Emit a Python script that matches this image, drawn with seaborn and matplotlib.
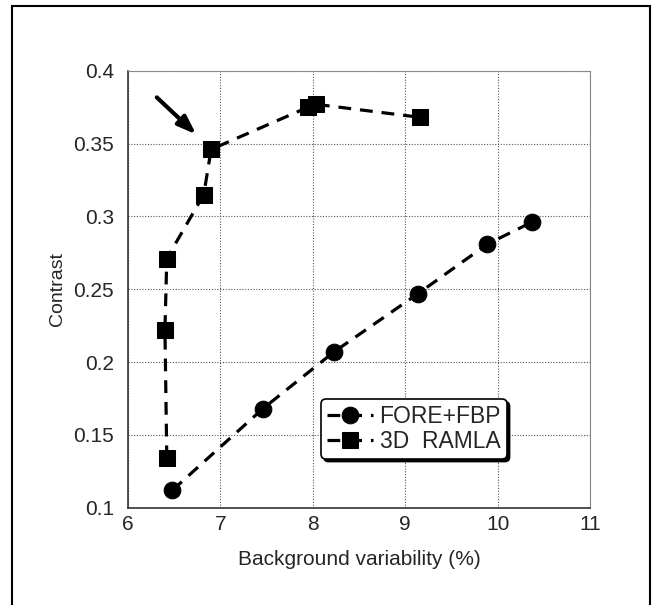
import pandas as pd
import matplotlib
matplotlib.use("Agg")
import matplotlib.pyplot as plt
from matplotlib.patches import Rectangle
import seaborn as sns

# Data
fbp_x = [6.48, 7.46, 8.23, 9.14, 9.89, 10.37]
fbp_y = [0.112, 0.168, 0.207, 0.247, 0.281, 0.296]
ramla_x = [6.42, 6.40, 6.42, 6.82, 6.90, 7.95, 8.03, 9.16]
ramla_y = [0.134, 0.222, 0.271, 0.315, 0.346, 0.375, 0.377, 0.368]
methods = ["FORE+FBP", "3D  RAMLA"]
x_ticks = [6, 7, 8, 9, 10, 11]
y_ticks = [0.1, 0.15, 0.2, 0.25, 0.3, 0.35, 0.4]
y_ticklabels = ["0.1", "0.15", "0.2", "0.25", "0.3", "0.35", "0.4"]

df = pd.concat([
	pd.DataFrame({"x": fbp_x, "y": fbp_y, "method": methods[0]}),
	pd.DataFrame({"x": ramla_x, "y": ramla_y, "method": methods[1]}),
], ignore_index=True)

sns.set_style("white")
plt.rcParams["font.family"] = ["Liberation Sans", "DejaVu Sans"]

fig = plt.figure(figsize=(6.53, 6.05), dpi=100)
ax = fig.add_axes([0.196, 0.1608, 0.7075, 0.7223])

sns.lineplot(data=df, x="x", y="y", hue="method", style="method",
	hue_order=methods, style_order=methods,
	palette=["black", "black"],
	markers={methods[0]: "o", methods[1]: "s"},
	dashes={methods[0]: (4, 2.8), methods[1]: (4, 2.8)},
	sort=False, estimator=None, lw=2.3, markersize=12,
	markeredgecolor="black", ax=ax)

ax.set_xlim(6, 11)
ax.set_ylim(0.1, 0.4)
ax.set_xticks(x_ticks)
ax.set_yticks(y_ticks)
ax.set_yticklabels(y_ticklabels)
ax.tick_params(labelsize=15, length=0)
ax.tick_params(axis="y", pad=10)
ax.tick_params(axis="x", pad=5)
ax.grid(True, linestyle=(0, (1, 1.5)), color="#555555", lw=0.8)
for side in ["left", "bottom"]:
	ax.spines[side].set_color("#333333")
	ax.spines[side].set_linewidth(1.2)
for side in ["top", "right"]:
	ax.spines[side].set_color("#888888")
	ax.spines[side].set_linewidth(0.8)
ax.set_xlabel("Background variability (%)", fontsize=15, labelpad=12)
ax.set_ylabel("Contrast", fontsize=14, labelpad=5)

# arrow pointing at the selected RAMLA point
ax.annotate("", xy=(6.76, 0.355), xytext=(6.29, 0.383),
	arrowprops=dict(arrowstyle="-|>,head_length=1.1,head_width=0.4",
		color="black", lw=3))

handles, labels = ax.get_legend_handles_labels()
leg = ax.legend(handles, labels, loc="lower left", bbox_to_anchor=(0.418, 0.112),
	fontsize=16.5, frameon=True, fancybox=True, handlelength=2.0,
	handletextpad=0.3, borderpad=0.25, labelspacing=0.1, borderaxespad=0,
	shadow={"color": "black", "alpha": 1})
leg.get_frame().set_edgecolor("black")
leg.get_frame().set_linewidth(1.2)
leg.get_frame().set_alpha(1)

# outer frame around the figure
fig.patches.append(Rectangle((12 / 653, -0.05), (650 - 12) / 653, 1.05 - 6 / 605,
	transform=fig.transFigure, fill=False, edgecolor="black", lw=1.5))

fig.savefig("out.png", dpi=100)
